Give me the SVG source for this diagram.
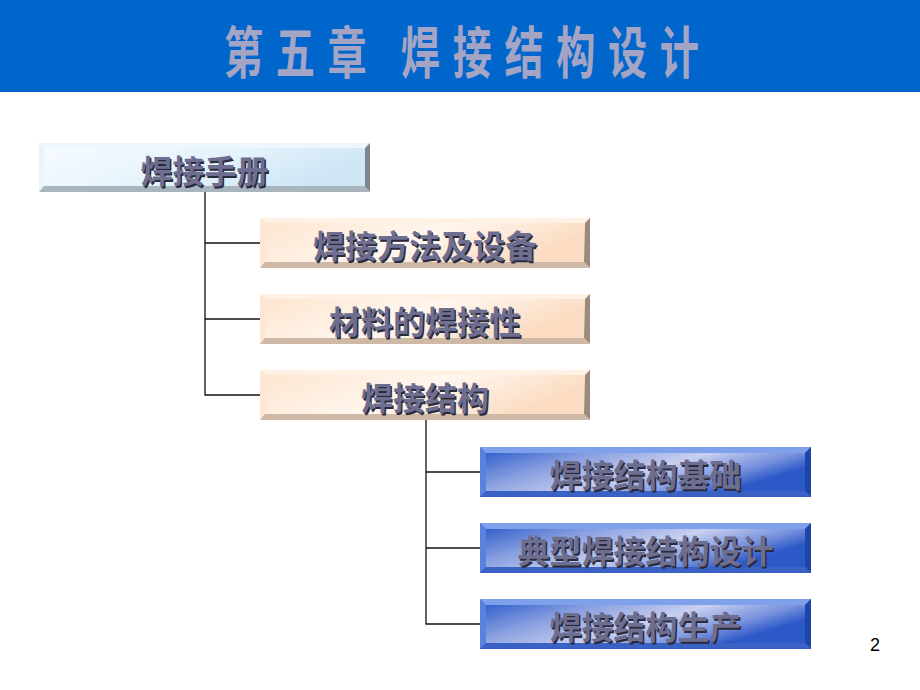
<svg xmlns="http://www.w3.org/2000/svg" xmlns:xlink="http://www.w3.org/1999/xlink" width="920" height="690" viewBox="0 0 920 690">
  <defs>
    <style>
      .lbl { font-family: "Noto Sans CJK SC", "Noto Sans", sans-serif; font-weight: 700; font-size: 32px; text-anchor: middle; }
      .sh { fill: #2a2a3c; }
      .fg { fill: #6e6e90; }
      .conn { stroke: #111; stroke-width: 1.3; fill: none; }
      .title { font-family: "Noto Sans CJK SC", "Noto Sans", sans-serif; font-weight: 700; font-size: 56px; fill: #a4a4c4; letter-spacing: 18px; }
      .pg { font-family: "Liberation Sans", Arial, sans-serif; font-size: 18px; fill: #000; }
    </style>
    <linearGradient id="gBlueFace" x1="0" y1="0" x2="1" y2="0.3">
      <stop offset="0" stop-color="#f6fbff"/>
      <stop offset="0.6" stop-color="#e4f2fb"/>
      <stop offset="1" stop-color="#cfe6f5"/>
    </linearGradient>
    <linearGradient id="gPeachFace" x1="0" y1="0" x2="1" y2="0.3">
      <stop offset="0" stop-color="#fde6d0"/>
      <stop offset="0.55" stop-color="#fff6ee"/>
      <stop offset="1" stop-color="#fbdcc2"/>
    </linearGradient>
    <linearGradient id="gDarkFace" x1="0" y1="0" x2="1" y2="0.4">
      <stop offset="0" stop-color="#3462cc"/>
      <stop offset="0.3" stop-color="#8aa0e0"/>
      <stop offset="0.6" stop-color="#c8d0f0"/>
      <stop offset="0.85" stop-color="#7590dc"/>
      <stop offset="1" stop-color="#2c58c8"/>
    </linearGradient>
    <g id="boxLight">
      <rect x="0" y="0" width="331" height="49" fill="#e6f3fb"/>
      <polygon points="0,0 331,0 326,5 5,5" fill="#eef7fd"/>
      <polygon points="0,0 5,5 5,43 0,49" fill="#e9f4fb"/>
      <polygon points="331,0 331,49 325,43 326,5" fill="#7c8690"/>
      <polygon points="0,49 331,49 325,43 5,43" fill="#a9b5be"/>
      <rect x="5" y="5" width="321" height="38" fill="url(#gBlueFace)"/>
    </g>
    <g id="boxPeach">
      <rect x="0" y="0" width="330" height="50" fill="#fde9d8"/>
      <polygon points="0,0 330,0 325,5 5,5" fill="#fff1e4"/>
      <polygon points="0,0 5,5 5,44 0,50" fill="#fde6d2"/>
      <polygon points="330,0 330,50 324,44 325,5" fill="#9c8a7c"/>
      <polygon points="0,50 330,50 324,44 5,44" fill="#cdb9a6"/>
      <rect x="5" y="5" width="319" height="39" fill="url(#gPeachFace)"/>
    </g>
    <g id="boxDark">
      <rect x="0" y="0" width="331" height="50" fill="#3a66d0"/>
      <polygon points="0,0 331,0 325,6 6,6" fill="#7fa0ea"/>
      <polygon points="0,0 6,6 6,44 0,50" fill="#5a82dc"/>
      <polygon points="331,0 331,50 325,44 325,6" fill="#1d46a8"/>
      <polygon points="0,50 331,50 325,44 6,44" fill="#3a62c4"/>
      <rect x="6" y="6" width="319" height="38" fill="url(#gDarkFace)"/>
    </g>
  </defs>

  <rect x="0" y="0" width="920" height="690" fill="#ffffff"/>

  <g id="header">
    <rect x="0" y="0" width="920" height="92" fill="#0066cc"/>
    <text class="title" transform="scale(0.7,1)" x="320" y="73">第五章 焊接结构设计</text>
  </g>

  <g id="connectors">
    <polyline class="conn" points="205,192 205,395 261,395"/>
    <line class="conn" x1="205" y1="243" x2="261" y2="243"/>
    <line class="conn" x1="205" y1="319" x2="261" y2="319"/>
    <polyline class="conn" points="426,420 426,624 481,624"/>
    <line class="conn" x1="426" y1="472" x2="481" y2="472"/>
    <line class="conn" x1="426" y1="548" x2="481" y2="548"/>
  </g>

  <g id="node-handbook" transform="translate(39,143)">
    <use xlink:href="#boxLight"/>
    <text class="lbl sh" x="167" y="41.5">焊接手册</text>
    <text class="lbl fg" x="165.5" y="40">焊接手册</text>
  </g>

  <g id="node-method" transform="translate(260,218)">
    <use xlink:href="#boxPeach"/>
    <text class="lbl sh" x="166.5" y="41.5">焊接方法及设备</text>
    <text class="lbl fg" x="165" y="40">焊接方法及设备</text>
  </g>

  <g id="node-material" transform="translate(260,294)">
    <use xlink:href="#boxPeach"/>
    <text class="lbl sh" x="166.5" y="41.5">材料的焊接性</text>
    <text class="lbl fg" x="165" y="40">材料的焊接性</text>
  </g>

  <g id="node-structure" transform="translate(260,370)">
    <use xlink:href="#boxPeach"/>
    <text class="lbl sh" x="166.5" y="41.5">焊接结构</text>
    <text class="lbl fg" x="165" y="40">焊接结构</text>
  </g>

  <g id="node-basis" transform="translate(480,447)">
    <use xlink:href="#boxDark"/>
    <text class="lbl sh" x="167" y="41.5">焊接结构基础</text>
    <text class="lbl fg" x="165.5" y="40">焊接结构基础</text>
  </g>

  <g id="node-design" transform="translate(480,523)">
    <use xlink:href="#boxDark"/>
    <text class="lbl sh" x="167" y="41.5">典型焊接结构设计</text>
    <text class="lbl fg" x="165.5" y="40">典型焊接结构设计</text>
  </g>

  <g id="node-production" transform="translate(480,599)">
    <use xlink:href="#boxDark"/>
    <text class="lbl sh" x="167" y="41.5">焊接结构生产</text>
    <text class="lbl fg" x="165.5" y="40">焊接结构生产</text>
  </g>

  <text class="pg" x="870" y="651">2</text>
</svg>
